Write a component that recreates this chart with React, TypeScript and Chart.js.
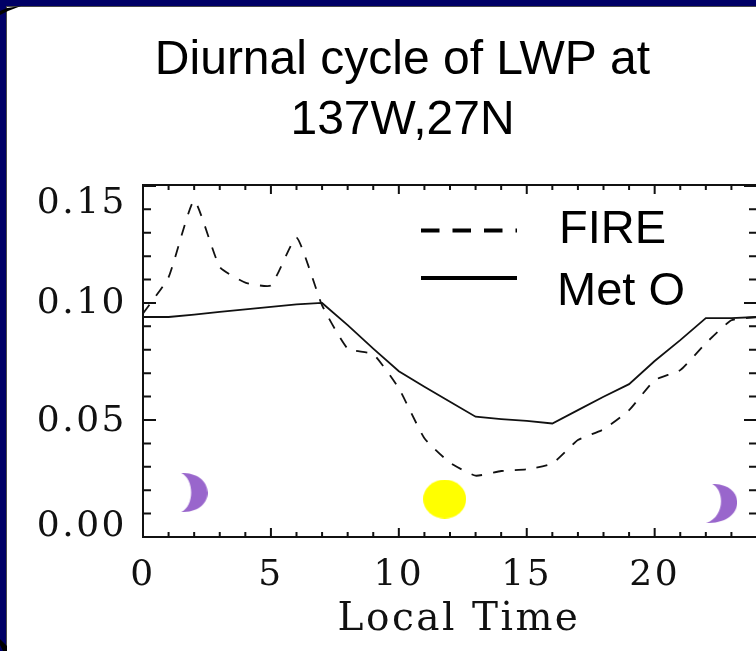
import React, { useEffect, useRef } from "react";
import { Chart, registerables } from "chart.js";

Chart.register(...registerables);

const hours = [0, 1, 2, 3, 4, 5, 6, 7, 8, 9, 10, 11, 12, 13, 14, 15, 16, 17, 18, 19, 20, 21, 22, 23, 24];
const fire = [0.0955, 0.111, 0.1438, 0.1154, 0.1087, 0.1075, 0.128, 0.099, 0.0805, 0.0781, 0.0635, 0.0422, 0.0317, 0.0262, 0.0282, 0.0289, 0.0314, 0.0414, 0.046, 0.0542, 0.067, 0.0713, 0.0828, 0.0926, 0.094];
const metO = [0.094, 0.094, 0.095, 0.0962, 0.0973, 0.0983, 0.0994, 0.1, 0.0905, 0.0805, 0.0708, 0.0642, 0.0578, 0.0514, 0.0504, 0.0496, 0.0485, 0.0542, 0.0599, 0.0653, 0.0752, 0.0841, 0.0935, 0.0935, 0.094];
const moonOne = [{ x: 2.0, y: 0.019 }];
const moonTwo = [{ x: 22.62, y: 0.0143 }];
const sun = [{ x: 11.79, y: 0.0162 }];
const yLabelTexts = ["0.00", "0.05", "0.10", "0.15"];
const yLabelAnchors = [0.0046, 0.0491, 0.0999, 0.1426];
const xTitle = "Local Time";
const titleLines = ["Diurnal cycle of LWP at", "137W,27N"];

const INK = "#111111";
const AXIS_FONT = "'DejaVu Serif'";
const AXIS_SPACING = "2.5px";

function moonImage(w: number, h: number, topX: number, botX: number, outerX: number, innerX: number) {
  const c = document.createElement("canvas");
  c.width = w;
  c.height = h;
  const g = c.getContext("2d")!;
  const ctrl = (mid: number) => (8 * mid - topX - botX) / 6;
  g.fillStyle = "#9966cc";
  g.beginPath();
  g.moveTo(topX, 0);
  g.bezierCurveTo(ctrl(outerX), -1, ctrl(outerX), h + 1, botX, h);
  g.bezierCurveTo(ctrl(innerX), h - 6, ctrl(innerX), 6, topX, 0);
  g.fill();
  return c;
}

function sunImage(w: number, h: number) {
  const c = document.createElement("canvas");
  c.width = w;
  c.height = h;
  const g = c.getContext("2d")!;
  g.fillStyle = "#ffff00";
  g.beginPath();
  g.ellipse(w / 2, h / 2, w / 2, h / 2, 0, 0, Math.PI * 2);
  g.fill();
  return c;
}

const backdrop = {
  id: "backdrop",
  afterLayout(chart: any) {
    // the heading sits 24px right of the picture's centre
    const t = chart.titleBlock;
    if (t && !t.__shifted) {
      t.__shifted = true;
      t.left += 24;
      t.right += 24;
      const draw = t.draw.bind(t);
      t.draw = () => {
        const ctx = chart.ctx;
        const keep = ctx.letterSpacing;
        ctx.letterSpacing = "0px";
        draw();
        ctx.letterSpacing = keep;
      };
    }
  },
  beforeDraw(chart: any) {
    const { ctx, width, height } = chart;
    ctx.letterSpacing = AXIS_SPACING;
    ctx.save();
    ctx.fillStyle = "#000066";
    ctx.fillRect(0, 0, width, height);
    ctx.fillStyle = "#ffffff";
    ctx.fillRect(7, 7, width - 7, height - 7);
    ctx.fillStyle = "#4a4a4a";
    ctx.fillRect(6, 6, width - 6, 1);
    ctx.fillRect(6, 6, 1, height - 6);
    ctx.fillStyle = "#000000";
    ctx.beginPath();
    ctx.moveTo(0, 11);
    ctx.lineTo(7, 8);
    ctx.lineTo(21, 6);
    ctx.lineTo(8, 11);
    ctx.lineTo(0, 15);
    ctx.fill();
    ctx.beginPath();
    ctx.moveTo(0, 639);
    ctx.lineTo(7, 646);
    ctx.lineTo(7, 651);
    ctx.lineTo(3, 651);
    ctx.lineTo(0, 645);
    ctx.fill();
    ctx.restore();
  },
};

const frame = {
  id: "frame",
  afterDraw(chart: any) {
    const { ctx, chartArea: a, scales } = chart;
    ctx.save();
    ctx.strokeStyle = INK;
    ctx.lineWidth = 2;
    ctx.strokeRect(a.left, a.top, a.right - a.left, a.bottom - a.top);
    ctx.beginPath();
    for (const t of scales.x.ticks) {
      const px = scales.x.getPixelForValue(t.value);
      const len = t.value % 5 === 0 ? 9 : 5;
      ctx.moveTo(px, a.bottom);
      ctx.lineTo(px, a.bottom - len);
      ctx.moveTo(px, a.top);
      ctx.lineTo(px, a.top + len);
    }
    for (const t of scales.y.ticks) {
      const py = scales.y.getPixelForValue(t.value);
      const major = Math.round(t.value * 100) % 5 === 0;
      const len = major ? 13 : 8;
      ctx.moveTo(a.left, py);
      ctx.lineTo(a.left + len, py);
      ctx.moveTo(a.right, py);
      ctx.lineTo(a.right - len, py);
    }
    ctx.stroke();

    // axis title
    ctx.fillStyle = INK;
    ctx.textAlign = "center";
    ctx.textBaseline = "middle";
    ctx.font = `39px ${AXIS_FONT}`;
    ctx.fillText(xTitle, 459, 620);

    // legend
    ctx.letterSpacing = "0px";
    const rows = [
      { ds: chart.data.datasets[0], y: 230.5, tx: 559, ty: 230, dash: [18.5, 13] },
      { ds: chart.data.datasets[1], y: 278, tx: 557, ty: 292, dash: [] as number[] },
    ];
    ctx.font = "47px 'Liberation Sans'";
    ctx.textAlign = "left";
    for (const r of rows) {
      ctx.strokeStyle = "#000000";
      ctx.lineWidth = 4;
      ctx.setLineDash(r.dash);
      ctx.beginPath();
      ctx.moveTo(421, r.y);
      ctx.lineTo(517, r.y);
      ctx.stroke();
      ctx.setLineDash([]);
      ctx.fillStyle = "#000000";
      ctx.fillText(r.ds.label, r.tx, r.ty);
    }
    ctx.restore();
  },
};

export default function App() {
  const ref = useRef<HTMLCanvasElement | null>(null);
  useEffect(() => {
    const chart = new Chart(ref.current!, {
      type: "line",
      data: {
        labels: hours,
        datasets: [
          {
            label: "FIRE",
            data: hours.map((h, i) => ({ x: h, y: fire[i] })),
            borderColor: INK,
            borderWidth: 1.8,
            borderDash: [11, 11],
            pointRadius: 0,
            tension: 0.15,
          },
          {
            label: "Met O",
            data: hours.map((h, i) => ({ x: h, y: metO[i] })),
            borderColor: INK,
            borderWidth: 1.8,
            pointRadius: 0,
            tension: 0,
          },
          {
            type: "scatter",
            label: "Night",
            data: moonOne,
            pointStyle: moonImage(27, 39, 0.5, 0.5, 27, 10.5),
            pointRadius: 20,
            showLine: false,
          },
          {
            type: "scatter",
            label: "Night",
            data: moonTwo,
            pointStyle: moonImage(31, 39, 6, 0, 31, 14.7),
            pointRadius: 20,
            showLine: false,
          },
          {
            type: "scatter",
            label: "Noon",
            data: sun,
            pointStyle: sunImage(43, 39),
            pointRadius: 20,
            showLine: false,
          },
        ] as any,
      },
      options: {
        responsive: false,
        animation: false,
        layout: { padding: { right: 47 } },
        plugins: {
          legend: { display: false },
          tooltip: { enabled: false },
          title: {
            display: true,
            text: titleLines,
            color: "#000000",
            font: { family: "'Liberation Sans'", size: 48, weight: "normal", lineHeight: 1.25 },
            padding: { top: 31, bottom: 34 },
          },
        },
        scales: {
          x: {
            type: "linear",
            min: 0,
            max: 24,
            grid: { display: false, drawTicks: false },
            border: { display: false },
            afterBuildTicks: (s: any) => {
              s.ticks = hours.map((value) => ({ value }));
            },
            afterFit: (s: any) => {
              s.height = 114;
            },
            ticks: {
              autoSkip: false,
              maxRotation: 0,
              padding: 17,
              color: INK,
              font: { family: AXIS_FONT, size: 36 },
              callback: (v: any) => (Number(v) % 5 === 0 ? String(v) : ""),
            },
          },
          y: {
            type: "linear",
            position: "left",
            min: 0,
            max: 0.1504,
            grid: { display: false, drawTicks: false },
            border: { display: false },
            afterBuildTicks: (s: any) => {
              const out = [];
              for (let i = 0; i <= 15; i++) out.push({ value: i / 100 });
              s.ticks = out;
            },
            afterFit: (s: any) => {
              s.width = 0;
            },
            ticks: { display: false },
          },
          yLabels: {
            type: "linear",
            position: "left",
            min: 0,
            max: 0.1504,
            grid: { display: false, drawTicks: false },
            border: { display: false },
            afterBuildTicks: (s: any) => {
              s.ticks = yLabelAnchors.map((value) => ({ value }));
            },
            afterFit: (s: any) => {
              s.width = 143;
            },
            ticks: {
              autoSkip: false,
              padding: 16,
              color: INK,
              font: { family: AXIS_FONT, size: 36 },
              callback: (v: any) => yLabelTexts[yLabelAnchors.indexOf(Number(v))] ?? "",
            },
          },
        },
      } as any,
      plugins: [backdrop, frame],
    });
    return () => chart.destroy();
  }, []);

  return (
    <div style={{ position: "absolute", left: 0, top: 0, width: 756, height: 651, overflow: "hidden" }}>
      <canvas ref={ref} width={804} height={651} style={{ display: "block" }} />
    </div>
  );
}
